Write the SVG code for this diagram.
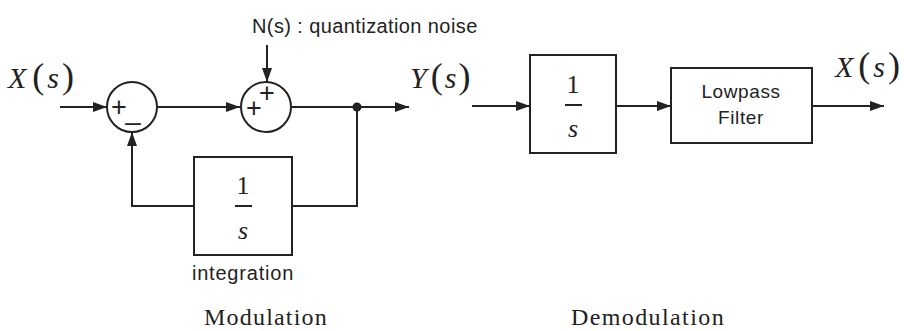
<svg xmlns="http://www.w3.org/2000/svg" width="904" height="331" viewBox="0 0 904 331">
<defs>
<marker id="arr" viewBox="0 0 14 10" refX="14" refY="5" markerWidth="14" markerHeight="10" markerUnits="userSpaceOnUse" orient="auto">
<path d="M0,0 L14,5 L0,10 Z" fill="#222"/>
</marker>
</defs>
<style>
.ln{fill:none;stroke:#222;stroke-width:2}
.bx{fill:#fff;stroke:#222;stroke-width:2}
.sans{font-family:"Liberation Sans",Arial,sans-serif;fill:#222}
.ser{font-family:"Liberation Serif","Times New Roman",serif;fill:#222}
.it{font-style:italic}
.sg{font-family:"Liberation Sans",Arial,sans-serif;fill:#222;font-size:27px;text-anchor:middle}
</style>
<rect width="904" height="331" fill="#fff"/>
<g id="connectors">
<line class="ln" x1="60" y1="107" x2="107" y2="107" marker-end="url(#arr)"/>
<line class="ln" x1="157" y1="107" x2="240" y2="107" marker-end="url(#arr)"/>
<line class="ln" x1="267" y1="45" x2="267" y2="82" marker-end="url(#arr)"/>
<line class="ln" x1="291" y1="107" x2="409" y2="107" marker-end="url(#arr)"/>
<polyline class="ln" points="357,107 357,206 292,206"/>
<polyline class="ln" points="194,206 132,206 132,132" marker-end="url(#arr)"/>
<line class="ln" x1="472" y1="106" x2="530" y2="106" marker-end="url(#arr)"/>
<line class="ln" x1="616" y1="106" x2="671" y2="106" marker-end="url(#arr)"/>
<line class="ln" x1="812" y1="106" x2="884" y2="106" marker-end="url(#arr)"/>
<circle cx="357" cy="107" r="4.5" fill="#222"/>
</g>
<g id="sum1">
<circle class="bx" cx="132" cy="107" r="25"/>
<text class="sg" x="119" y="116">+</text>
<text class="sg" x="133" y="119">_</text>
</g>
<g id="sum2">
<circle class="bx" cx="266" cy="107" r="25"/>
<text class="sg" x="254" y="117">+</text>
<text class="sg" x="267" y="102">+</text>
</g>
<g id="integrator">
<rect class="bx" x="194" y="157" width="98" height="98"/>
<text class="ser" x="243" y="194" font-size="26" text-anchor="middle">1</text>
<line class="ln" x1="235" y1="206" x2="252" y2="206"/>
<text class="ser it" x="243" y="239" font-size="26" text-anchor="middle">s</text>
<text class="sans" x="243" y="280" font-size="20" letter-spacing="0.8" text-anchor="middle">integration</text>
</g>
<g id="demod-integrator">
<rect class="bx" x="530" y="55" width="86" height="98"/>
<text class="ser" x="573" y="93" font-size="26" text-anchor="middle">1</text>
<line class="ln" x1="565" y1="105" x2="582" y2="105"/>
<text class="ser it" x="573" y="137" font-size="26" text-anchor="middle">s</text>
</g>
<g id="lowpass">
<rect class="bx" x="671" y="68" width="141" height="75"/>
<text class="sans" x="741" y="98" font-size="19" letter-spacing="0.6" text-anchor="middle">Lowpass</text>
<text class="sans" x="741" y="124" font-size="19" letter-spacing="0.6" text-anchor="middle">Filter</text>
</g>
<g id="labels">
<text class="ser" x="8" y="88" font-size="30"><tspan class="it">X</tspan><tspan font-size="36" dx="6">(</tspan><tspan class="it" dx="3">s</tspan><tspan font-size="36" dx="3">)</tspan></text>
<text class="ser" x="410" y="88" font-size="30"><tspan class="it">Y</tspan><tspan font-size="36" dx="4">(</tspan><tspan class="it" dx="2">s</tspan><tspan font-size="36" dx="2">)</tspan></text>
<text class="ser" x="835" y="77" font-size="30"><tspan class="it">X</tspan><tspan font-size="36" dx="5">(</tspan><tspan class="it" dx="3">s</tspan><tspan font-size="36" dx="3">)</tspan></text>
<text class="sans" x="252" y="33" font-size="20" letter-spacing="0.4">N(s) : quantization noise</text>
<text class="ser" x="266" y="325" font-size="24" letter-spacing="1.2" text-anchor="middle">Modulation</text>
<text class="ser" x="648" y="325" font-size="24" letter-spacing="1.4" text-anchor="middle">Demodulation</text>
</g>
</svg>
